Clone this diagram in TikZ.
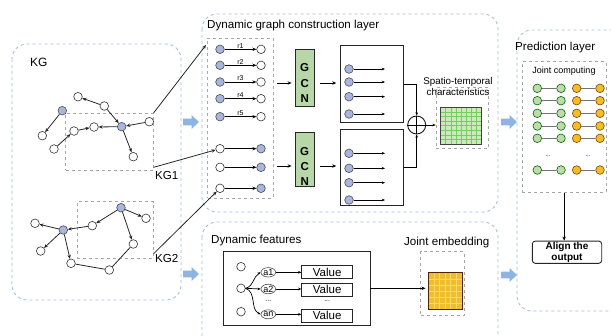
\documentclass[tikz,border=0pt]{standalone}
\usepackage{fontspec}
\setmainfont{Liberation Sans}
\usetikzlibrary{arrows.meta,shapes.geometric}

\definecolor{panelblue}{RGB}{160,190,232}
\definecolor{arrowblue}{RGB}{141,180,226}
\definecolor{nodeblue}{RGB}{168,182,222}
\definecolor{gcngreen}{RGB}{183,215,168}
\definecolor{gridfill}{RGB}{200,235,185}
\definecolor{gridline}{RGB}{120,200,100}
\definecolor{pairgreen}{RGB}{190,220,170}
\definecolor{pairyellow}{RGB}{241,190,40}
\definecolor{sqfill}{RGB}{240,190,45}
\definecolor{sqline}{RGB}{250,215,110}

\tikzset{
  panel/.style={draw=panelblue, dashed, line width=0.9pt, rounded corners=15pt},
  gbox/.style={draw=black!35, dashed, line width=0.7pt, inner sep=0pt},
  wn/.style={circle, draw=black!80, fill=white, line width=0.6pt, inner sep=0pt, minimum size=8.6pt},
  bn/.style={circle, draw=black!70, fill=nodeblue, line width=0.6pt, inner sep=0pt, minimum size=8.6pt},
  gn/.style={circle, draw=black!60!green, fill=pairgreen, line width=0.6pt, inner sep=0pt, minimum size=8.6pt},
  yn/.style={circle, draw=black!50!orange, fill=pairyellow, line width=0.6pt, inner sep=0pt, minimum size=8.6pt},
  arr/.style={-{Stealth[length=4pt,width=3.4pt]}, line width=0.8pt},
  thinarr/.style={-{Stealth[length=3.2pt,width=2.6pt]}, line width=0.6pt},
  edge/.style={line width=0.8pt, black!85},
  title/.style={font=\fontsize{11.6}{13}\selectfont, inner sep=0pt},
  outbox/.style={draw=black!85, line width=0.9pt, inner sep=0pt},
  valbox/.style={draw=black!85, line width=0.7pt, minimum width=51pt, minimum height=13pt, inner sep=0pt, font=\fontsize{11.5}{12}\selectfont},
  attr/.style={ellipse, draw=black!70, line width=0.6pt, inner sep=0.2pt, minimum width=14pt, minimum height=9pt, font=\fontsize{9}{9}\selectfont},
  barrow/.pic={\fill[arrowblue] (-8,-3.4) -- (0.5,-3.4) -- (0.5,-7) -- (8,0) -- (0.5,7) -- (0.5,3.4) -- (-8,3.4) -- cycle;}
}

\begin{document}
\begin{tikzpicture}[x=1pt,y=-1pt]
\useasboundingbox (0,0) rectangle (611,335);
\clip (0,0) rectangle (611,335);

% ---------------- panels ----------------
\draw[panel] (12,44) rectangle (181,300);
\draw[panel] (202,14) rectangle (498,212);
\draw[panel] (202,222) rectangle (498,360);
\draw[panel] (517,30) rectangle (640,311);

% block arrows between panels
\pic at (191,122) {barrow};
\pic at (191,274) {barrow};
\pic at (509,122) {barrow};
\pic at (509,275) {barrow};

% ---------------- knowledge graph ----------------
\node[title, font=\fontsize{12}{13}\selectfont, anchor=west] (kgt) at (30,62) {KG};

\node[gbox, minimum width=87.6pt, minimum height=56.7pt] (kg1) at (109.5,141.6) {};
\node[gbox, minimum width=76pt, minimum height=56.6pt] (kg2) at (115.3,230) {};
\node[title, anchor=west] (kg1t) at (155,176) {KG1};
\node[title, anchor=west] (kg2t) at (155,259) {KG2};

% upper graph
\node[bn] (ua) at (62.3,110.7) {};
\node[wn] (ub) at (42.3,135.7) {};
\node[wn] (uc) at (54,149) {};
\node[wn] (ud) at (74,131) {};
\node[wn] (ue) at (94,127) {};
\node[bn] (uh) at (121.7,126.7) {};
\node[wn] (uf) at (78,96.7) {};
\node[wn] (ug) at (104.3,106) {};
\node[wn] (ui) at (149.3,121.7) {};
\node[wn] (uj) at (133.3,156.7) {};
\draw[edge, arr] (ua) -- (ub);
\draw[edge, arr] (uc) -- (ud);
\draw[edge, arr] (ud) -- (ue);
\draw[edge, arr] (uh) -- (ue);
\draw[edge, arr] (ug) -- (uf);
\draw[edge, arr] (ug) -- (uh);
\draw[edge, arr] (ui) -- (uh);
\draw[edge, arr] (uh) -- (uj);

% lower graph
\node[bn] (la) at (63.3,230) {};
\node[wn] (lb) at (35,223.3) {};
\node[wn] (lc) at (40.7,251) {};
\node[wn] (ld) at (71,263.3) {};
\node[wn] (le) at (109.3,270) {};
\node[wn] (lf) at (133.3,244) {};
\node[bn] (lg) at (121,207.7) {};
\node[wn] (lh) at (146,218.3) {};
\node[wn] (li) at (92.3,225.7) {};
\draw[edge, arr] (la) -- (lb);
\draw[edge, arr] (la) -- (lc);
\draw[edge, arr] (la) -- (ld);
\draw[edge] (ld) -- (le);
\draw[edge] (le) -- (lf);
\draw[edge, arr] (lg) -- (lf);
\draw[edge, arr] (lg) -- (lh);
\draw[edge, arr] (lg) -- (li);
\draw[edge, arr] (li) -- (la);

% ---------------- dynamic graph construction ----------------
\node[title, anchor=west] (dgt) at (207,25) {Dynamic graph construction layer};
\node[gbox, minimum width=65.3pt, minimum height=160pt] (dbox) at (240.35,118) {};

\foreach \i/\y in {1/49.3,2/65.3,3/82,4/98.7,5/116.7} {
  \node[bn] (rb\i) at (220,\y) {};
  \node[wn] (rw\i) at (261,\y) {};
  \draw[arr] (rb\i) -- (rw\i)
    node[midway, above=0.6pt, inner sep=0pt, font=\fontsize{7}{7}\selectfont] (rl\i) {r\i};
}
\foreach \i/\y in {1/148.7,2/167.3,3/188.3} {
  \node[wn] (sw\i) at (220,\y) {};
  \node[bn] (sb\i) at (261,\y) {};
  \draw[arr] (sw\i) -- (sb\i);
}

% links from the sub-graphs
\coordinate (din) at (206,45);
\draw[edge, arr] (kg1.north east) -- (din);
\draw[edge, arr] ([yshift=3pt]kg1.south east) -- (sw1);
\draw[edge, arr] ([yshift=5pt]kg2.south east) -- (sw3);

% GCN blocks
\node[draw=black!85, fill=gcngreen, line width=0.9pt, minimum width=19.3pt, minimum height=57.4pt, inner sep=0pt] (gcn1) at (304.7,78) {};
\node[draw=black!85, fill=gcngreen, line width=0.9pt, minimum width=19.3pt, minimum height=54pt, inner sep=0pt] (gcn2) at (304.7,159.7) {};
\node[align=center, font=\fontsize{11.5}{15.5}\selectfont\bfseries, inner sep=0pt] (gcn1t) at (304.7,83) {G\\C\\N};
\node[align=center, font=\fontsize{11.5}{15}\selectfont\bfseries, inner sep=0pt] (gcn2t) at (304.7,166) {G\\C\\N};

% output blocks
\node[outbox, minimum width=62.6pt, minimum height=77pt] (out1) at (372,84.2) {};
\node[outbox, minimum width=62.6pt, minimum height=76pt] (out2) at (372,167) {};

\draw[arr, shorten <=3.5pt, shorten >=3pt] (dbox.east |- gcn1t) -- (gcn1.west |- gcn1t);
\draw[arr, shorten <=3.5pt, shorten >=3pt] (dbox.east |- gcn2t) -- (gcn2.west |- gcn2t);
\draw[arr, shorten <=5.5pt, shorten >=4pt] (gcn1.east |- gcn1t) -- (out1.west |- gcn1t);
\draw[arr, shorten <=5.5pt, shorten >=4pt] (gcn2.east |- gcn2t) -- (out2.west |- gcn2t);

\foreach \i/\y in {1/69,2/82,3/96.7,4/114} {
  \node[bn] (pb\i) at (349,\y) {};
  \coordinate (pe\i) at (385,\y);
  \draw[thinarr] (pb\i) -- (pe\i);
}
\foreach \i/\y in {1/153.3,2/168.3,3/182.7,4/200} {
  \node[bn] (qb\i) at (349,\y) {};
  \coordinate (qe\i) at (385,\y);
  \draw[thinarr] (qb\i) -- (qe\i);
}

% fusion
\node[circle, draw=black!90, line width=0.9pt, minimum size=18pt, inner sep=0pt] (oplus) at (416.7,125) {};
\draw[line width=0.9pt] (oplus.north) -- (oplus.south);
\draw[line width=0.9pt] (oplus.west) -- (oplus.east);
\draw[thinarr, line width=0.8pt] (out1.east) -| (oplus.north);
\draw[thinarr, line width=0.8pt] (out2.east) -| (oplus.south);

\node[gbox, minimum width=52.3pt, minimum height=61.3pt] (stbox) at (462.15,117.65) {};
\node[align=center, font=\fontsize{9.8}{11.5}\selectfont, inner sep=0pt] (stt) at (458,86.5) {Spatio-temporal\\characteristics};
\draw[thinarr, line width=0.8pt] (oplus.east) -- (stbox.west |- oplus.east);

\node[draw=black!75, fill=gridfill, line width=0.8pt, minimum width=40.3pt, minimum height=36.7pt, inner sep=0pt] (stgrid) at (460.85,125.65) {};
\foreach \k in {1,...,7} {
  \draw[gridline, line width=0.5pt] (440.7+\k*5.0375,107.7) -- (440.7+\k*5.0375,143.6);
  \draw[gridline, line width=0.5pt] (441.1,107.3+\k*4.5875) -- (480.6,107.3+\k*4.5875);
}
\draw[black!75, line width=0.8pt] (stgrid.north west) rectangle (stgrid.south east);

% ---------------- dynamic features ----------------
\node[title, anchor=west] (dft) at (211,240) {Dynamic features};
\node[outbox, line width=0.8pt, minimum width=146.7pt, minimum height=73.3pt] (dfbox) at (296.65,288.35) {};

\node[wn] (c1) at (241,266.7) {};
\node[wn] (c2) at (241,288.3) {};
\node[wn] (c3) at (241,311.7) {};
\node[attr] (a1) at (268.3,272.3) {a1};
\node[attr] (a2) at (268.3,289) {a2};
\node[attr] (an) at (268.3,314.3) {an};
\node[font=\fontsize{7}{7}\selectfont, inner sep=0pt] (ad) at (268.3,301) {...};
\draw[thinarr, line width=0.7pt] (c2.east) to[out=15, in=210] (a1.west);
\draw[thinarr, line width=0.7pt] (c2.east) -- (a2.west);
\draw[thinarr, line width=0.7pt] (c2.east) to[out=-20, in=155] (an.west);

\node[valbox] (v1) at (327.2,272.3) {Value};
\node[valbox] (v2) at (327.2,289.7) {Value};
\node[valbox] (v3) at (327.2,315.5) {Value};
\node[font=\fontsize{7}{7}\selectfont, inner sep=0pt] (vd) at (327.2,301.5) {...};
\draw[thinarr, line width=0.7pt] (a1.east) -- (v1.west |- a1.east);
\draw[thinarr, line width=0.7pt] (a2.east) -- (v2.west |- a2.east);
\draw[thinarr, line width=0.7pt] (an.east) -- (v3.west |- an.east);

\node[title] (jet) at (446.7,242.7) {Joint embedding};
\node[gbox, minimum width=43.6pt, minimum height=63.3pt] (jebox) at (442.5,283.35) {};
\node[fill=sqfill, minimum width=33pt, minimum height=36pt, inner sep=0pt] (ysq) at (445.2,291) {};
\foreach \k in {1,...,5} {
  \draw[sqline, line width=0.5pt] (428.7+\k*5.5,273.3) -- (428.7+\k*5.5,308.7);
  \draw[sqline, line width=0.5pt] (428.9,273+\k*6) -- (461.5,273+\k*6);
}
\draw[black!70!orange, line width=0.8pt] (ysq.north west) rectangle (ysq.south east);
\draw[arr] (dfbox.east |- c2) -- ([xshift=-3pt]ysq.west |- c2);

% ---------------- prediction layer ----------------
\node[title, anchor=west] (plt) at (515,47.5) {Prediction layer};
\node[gbox, minimum width=83.7pt, minimum height=130.6pt] (jcbox) at (564.15,127) {};
\node[font=\fontsize{9}{10}\selectfont, inner sep=0pt] (jct) at (564,71) {Joint computing};
\foreach \i/\y in {1/88.3,2/100.7,3/113.3,4/126,5/138.3,6/170} {
  \node[gn] (ga\i) at (537.3,\y) {};
  \node[gn] (gb\i) at (561,\y) {};
  \node[yn] (ya\i) at (576.7,\y) {};
  \node[yn] (yb\i) at (600,\y) {};
  \draw[black!55, line width=0.8pt] (ga\i) -- (gb\i);
  \draw[black!55, line width=0.8pt] (ya\i) -- (yb\i);
}
\node[font=\fontsize{6}{6}\selectfont, inner sep=0pt] (gd) at (548,156) {...};
\node[font=\fontsize{6}{6}\selectfont, inner sep=0pt] (yd) at (588,156) {...};

\node[draw=black!85, line width=0.9pt, rounded corners=3pt, minimum width=69.4pt, minimum height=22.3pt, inner sep=0pt, align=center, font=\fontsize{10}{11}\selectfont\bfseries] (align) at (567,252.2) {Align the\\output};
\draw[arr] (jcbox.south) -- (jcbox.south |- align.north);

\end{tikzpicture}
\end{document}
